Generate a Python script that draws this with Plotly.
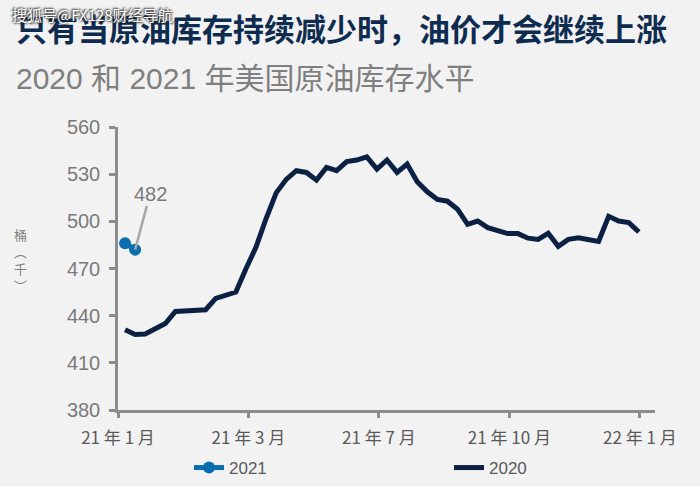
import plotly.graph_objects as go

# ---- data ----
weeks_2020 = list(range(52))
stocks_2020 = [431, 428, 428.3, 431.5, 435, 442.7, 443, 443.8, 443.8, 451,
               453, 455, 469.8, 483.6, 501.8, 518.1, 526.7, 532.2, 531.1, 526.2,
               534.3, 532.2, 538, 539, 541, 533.2, 539, 531.1, 536.4, 525.2,
               518.8, 513.9, 512.8, 507.7, 498.1, 500.2, 496, 493.9, 492.2, 492.2,
               489.3, 488.5, 492.4, 484.1, 488.5, 489.6, 488.5, 487.2, 503.2, 500.2,
               499.2, 493.2]
weeks_2021 = [0, 1]
stocks_2021 = [486, 482]
x_tick_labels = ["21 年 1 月", "21 年 3 月", "21 年 7 月", "21 年 10 月", "22 年 1 月"]
y_ticks = [380, 410, 440, 470, 500, 530, 560]
last_2021_label = "482"

# ---- layout geometry ----
W, H = 700, 486
L, R, T, B = 118, 655, 127, 410
x_range = [-0.7, 52.6]
tick_step = 12.95
x_tickvals = [x_range[0] + i * tick_step for i in range(len(x_tick_labels))]


def px(xp):
    return (xp - L) / (R - L)


def py(yp):
    return (B - yp) / (B - T)


GRAY_AX = "#8c8c8c"
LAT = "Liberation Sans, Arial, Noto Sans CJK SC, sans-serif"
CJK = "Noto Sans CJK SC, Liberation Sans, sans-serif"

fig = go.Figure()
fig.add_trace(go.Scatter(
    x=weeks_2021, y=stocks_2021, name="2021", mode="lines+markers",
    line=dict(color="#0a6fb0", width=5),
    marker=dict(color="#0a6fb0", size=12),
))
fig.add_trace(go.Scatter(
    x=weeks_2020, y=stocks_2020, name="2020", mode="lines",
    line=dict(color="#0b2143", width=5),
))

fig.update_layout(
    width=W, height=H,
    margin=dict(l=L, r=W - R, t=T, b=H - B, autoexpand=False),
    paper_bgcolor="#f2f2f2", plot_bgcolor="#f2f2f2",
    showlegend=True,
    legend=dict(orientation="h", x=px(189), y=py(468), xanchor="left", yanchor="middle",
                entrywidth=215, entrywidthmode="pixels", traceorder="normal",
                font=dict(family=LAT, size=17, color="#595959"),
                bgcolor="rgba(0,0,0,0)"),
    xaxis=dict(range=x_range, tickvals=x_tickvals, ticktext=x_tick_labels,
               showline=True, linecolor=GRAY_AX, linewidth=2.5,
               ticks="outside", ticklen=5, tickwidth=2.5, tickcolor=GRAY_AX,
               showgrid=False, zeroline=False, automargin=False, ticklabelstandoff=6,
               tickfont=dict(family=CJK, size=17, color="#595959")),
    yaxis=dict(range=[380, 560], tickvals=y_ticks,
               showline=True, linecolor=GRAY_AX, linewidth=2.5,
               ticks="outside", ticklen=6, tickwidth=2.5, tickcolor=GRAY_AX,
               showgrid=False, zeroline=False, automargin=False, ticklabelstandoff=5,
               tickfont=dict(family=LAT, size=20, color="#7a7a7a")),
)

annotations = [
    dict(text="<b>只有当原油库存持续减少时，油价才会继续上涨</b>",
         xref="paper", yref="paper", x=px(14), y=py(28), xanchor="left", yanchor="middle",
         showarrow=False, font=dict(family=CJK, size=31, color="#0e2b50")),
    dict(text="2020 和 2021 年美国原油库存水平",
         xref="paper", yref="paper", x=px(14), y=py(78), xanchor="left", yanchor="middle",
         showarrow=False, font=dict(family=LAT, size=30, color="#7f7f7f")),
    dict(text="搜狐号@FX128财经导航",
         xref="paper", yref="paper", x=px(10), y=py(14), xanchor="left", yanchor="middle",
         showarrow=False, font=dict(family=CJK, size=15, color="#ffffff",
                                    shadow="1px 1px 2px #222, -1px -1px 2px #222")),
    dict(text="桶<br>︵<br>千<br>︶",
         xref="paper", yref="paper", x=px(20), y=py(260), xanchor="center", yanchor="middle",
         showarrow=False, font=dict(family=CJK, size=13, color="#7f7f7f")),
    dict(text=last_2021_label, x=weeks_2021[-1], y=stocks_2021[-1], xref="x", yref="y",
         showarrow=True, arrowhead=0, arrowwidth=2.5, arrowcolor="#a6a6a6",
         ax=15, ay=-56, font=dict(family=LAT, size=20, color="#7a7a7a")),
]
fig.update_layout(annotations=annotations)

fig.write_html("out.html")
